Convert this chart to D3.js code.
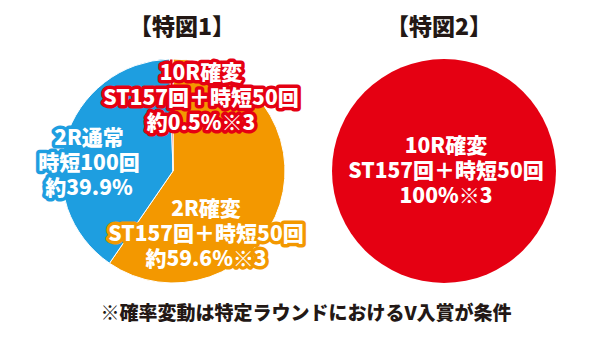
<!DOCTYPE html>
<html>
<head>
<meta charset="utf-8">
<script src="https://cdn.jsdelivr.net/npm/d3@7"></script>
<style>
  html, body { margin: 0; padding: 0; background: #fff; }
  svg { display: block; }
  text { font-family: "Noto Sans CJK JP", "Noto Sans", sans-serif; font-weight: 900; }
</style>
</head>
<body>
<svg id="chart" width="590" height="342"></svg>
<script>
// 特図1: round distribution
const categories1 = ["2R確変", "2R通常", "10R確変"];
const values1 = [59.6, 39.9, 0.5];
const labels1 = [
  ["2R確変", "ST157回＋時短50回", "約59.6%※3"],
  ["2R通常", "時短100回", "約39.9%"],
  ["10R確変", "ST157回＋時短50回", "約0.5%※3"]
];
// 特図2: round distribution
const categories2 = ["10R確変"];
const values2 = [100];
const labels2 = [["10R確変", "ST157回＋時短50回", "100%※3"]];

const titles = ["【特図1】", "【特図2】"];
const footnote = "※確率変動は特定ラウンドにおけるV入賞が条件";

const colors = d3.scaleOrdinal()
  .domain(["2R確変", "2R通常", "10R確変"])
  .range(["#f39800", "#1e9ee0", "#e50012"]);

const svg = d3.select("#chart");
const radius = 112;
const pie = d3.pie().sort(null).value(d => d.value);
const arc = d3.arc().innerRadius(0).outerRadius(radius);

// label anchor points relative to each pie centre
const labelPos1 = { "2R確変": [33, 37], "2R通常": [-84, -34], "10R確変": [28, -99] };
const labelPos2 = { "10R確変": [2, -26] };
const lineGap = 25;

function drawPie(cx, cy, cats, vals, labels, posMap, outlined) {
  const data = cats.map((c, i) => ({ cat: c, value: vals[i], lines: labels[i] }));
  const g = svg.append("g").attr("transform", `translate(${cx},${cy})`);
  g.selectAll("path.slice")
    .data(pie(data))
    .join("path")
    .attr("class", "slice")
    .attr("d", arc)
    .attr("fill", d => colors(d.data.cat))
    .attr("stroke", data.length > 1 ? "#fff" : "none")
    .attr("stroke-width", 1)
    .attr("stroke-linejoin", "round");

  const groups = g.selectAll("g.lbl")
    .data(data)
    .join("g")
    .attr("class", "lbl")
    .attr("transform", d => `translate(${posMap[d.cat][0]},${posMap[d.cat][1]})`);

  // white text; pie-1 labels get a thick outline in the slice colour
  groups.each(function(d) {
    d3.select(this).selectAll("text")
      .data(d.lines)
      .join("text")
      .attr("text-anchor", "middle")
      .attr("y", (t, i) => i * lineGap)
      .attr("dy", "0.36em")
      .attr("font-size", 21)
      .attr("fill", "#fff")
      .attr("stroke", outlined ? colors(d.cat) : "none")
      .attr("stroke-width", outlined ? 7 : 0)
      .attr("stroke-linejoin", "round")
      .attr("paint-order", "stroke")
      .text(t => t);
  });
}

drawPie(173, 171, categories1, values1, labels1, labelPos1, true);
drawPie(444, 171, categories2, values2, labels2, labelPos2, false);

// titles
svg.selectAll("text.title")
  .data(titles)
  .join("text")
  .attr("class", "title")
  .attr("x", (d, i) => [182, 439][i])
  .attr("y", 27)
  .attr("dy", "0.36em")
  .attr("text-anchor", "middle")
  .attr("font-size", 23)
  .attr("fill", "#231815")
  .text(d => d);

svg.append("text")
  .attr("x", 306)
  .attr("y", 313)
  .attr("dy", "0.36em")
  .attr("text-anchor", "middle")
  .attr("font-size", 19)
  .attr("fill", "#231815")
  .text(footnote);
</script>
</body>
</html>
